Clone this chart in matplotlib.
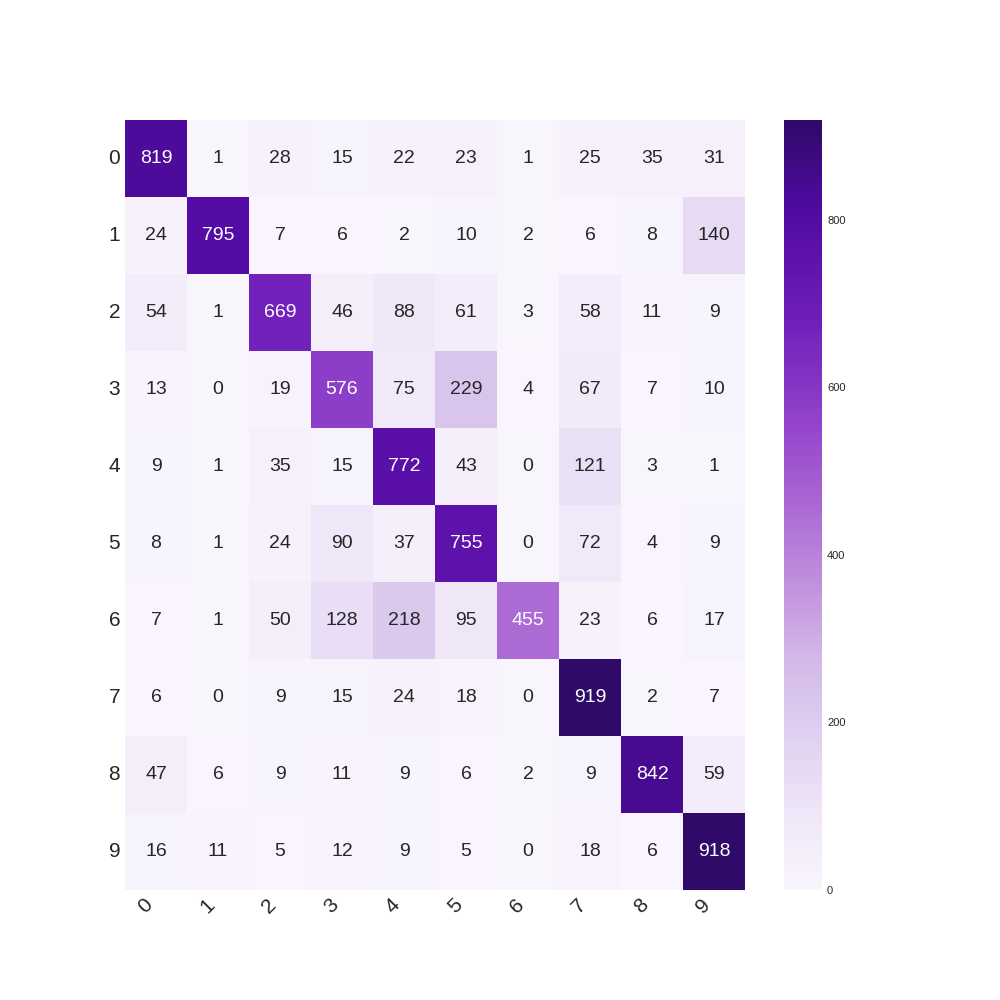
import numpy as np
import matplotlib
matplotlib.use('Agg')
import matplotlib.pyplot as plt
from matplotlib.colors import LinearSegmentedColormap
import seaborn as sns

labels = ['0', '1', '2', '3', '4', '5', '6', '7', '8', '9']

row_0 = [819, 1, 28, 15, 22, 23, 1, 25, 35, 31]
row_1 = [24, 795, 7, 6, 2, 10, 2, 6, 8, 140]
row_2 = [54, 1, 669, 46, 88, 61, 3, 58, 11, 9]
row_3 = [13, 0, 19, 576, 75, 229, 4, 67, 7, 10]
row_4 = [9, 1, 35, 15, 772, 43, 0, 121, 3, 1]
row_5 = [8, 1, 24, 90, 37, 755, 0, 72, 4, 9]
row_6 = [7, 1, 50, 128, 218, 95, 455, 23, 6, 17]
row_7 = [6, 0, 9, 15, 24, 18, 0, 919, 2, 7]
row_8 = [47, 6, 9, 11, 9, 6, 2, 9, 842, 59]
row_9 = [16, 11, 5, 12, 9, 5, 0, 18, 6, 918]

conf_matrix = np.array([row_0, row_1, row_2, row_3, row_4,
                        row_5, row_6, row_7, row_8, row_9])

# purple ramp sampled off the colorbar
cmap = LinearSegmentedColormap.from_list('purp', [
    (0.0, '#f9f5fd'), (0.1, '#efe6f8'), (0.2, '#dfd0f0'),
    (0.3, '#d2b8e8'), (0.4, '#c08fdc'), (0.5, '#ab68d4'),
    (0.6, '#9545cb'), (0.75, '#6c1db8'), (0.88, '#520aa2'),
    (1.0, '#2f0a69')])

sns.set_style('white')
plt.rcParams['font.family'] = ['Liberation Sans', 'DejaVu Sans']
plt.rcParams['text.color'] = '#262626'
plt.rcParams['xtick.color'] = '#262626'
plt.rcParams['ytick.color'] = '#262626'

fig = plt.figure(figsize=(10, 10), dpi=100)
ax = fig.add_subplot(111)
sns.heatmap(conf_matrix, annot=True, fmt='d', cmap=cmap,
            annot_kws={'size': 14}, ax=ax,
            xticklabels=labels, yticklabels=labels)

ax.set_xticklabels(labels, rotation=45, fontsize=15, ha='right')
ax.set_yticklabels(labels, rotation=0, fontsize=15)
ax.tick_params(length=0)

cbar = ax.collections[0].colorbar
cbar.ax.tick_params(labelsize=8, length=0)
cbar.outline.set_visible(False)

plt.savefig('out.png', format='png')
